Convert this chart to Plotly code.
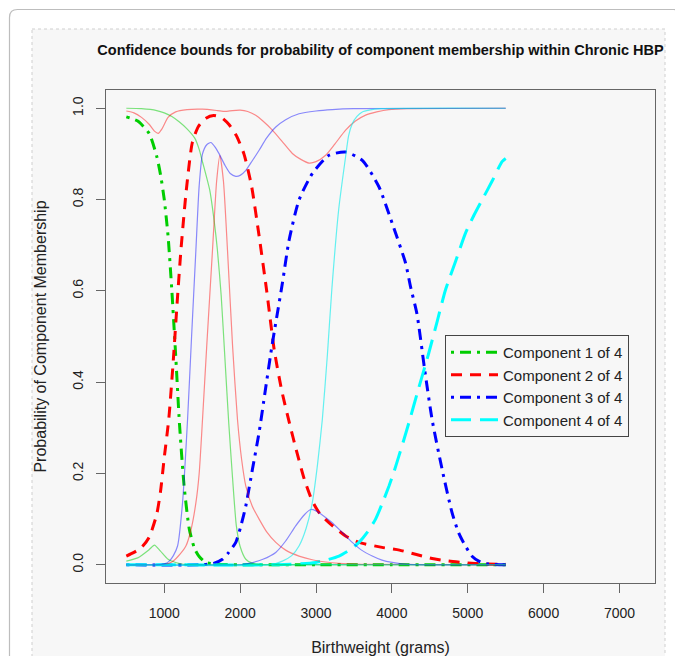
import plotly.graph_objects as go

# ---------------- data ----------------
comp_names = ["Component 1 of 4", "Component 2 of 4", "Component 3 of 4", "Component 4 of 4"]

# Component 1: point estimate and bounds
c1_est_x = [500, 650, 800, 900, 950, 1000, 1050, 1100, 1150, 1200, 1260, 1330, 1400, 1460, 1550, 1700, 2000, 3000, 4000, 5500]
c1_est_y = [0.981, 0.972, 0.945, 0.895, 0.855, 0.80, 0.72, 0.60, 0.46, 0.31, 0.175, 0.078, 0.035, 0.018, 0.005, 0.001, 0, 0, 0, 0]
c1_up_x = [500, 700, 900, 1000, 1100, 1200, 1300, 1400, 1460, 1500, 1600, 1660, 1700, 1750, 1800, 1850, 1900, 1950, 2000, 2075, 2150, 2250, 2500, 5500]
c1_up_y = [1.0, 0.999, 0.995, 0.99, 0.982, 0.97, 0.955, 0.935, 0.91, 0.885, 0.82, 0.75, 0.69, 0.59, 0.45, 0.31, 0.19, 0.085, 0.04, 0.012, 0.004, 0.001, 0, 0]
c1_lo_x = [500, 650, 800, 870, 950, 1050, 1150, 1250, 1400, 5500]
c1_lo_y = [0.008, 0.015, 0.033, 0.043, 0.03, 0.012, 0.005, 0.001, 0, 0]

# Component 2
c2_est_x = [500, 600, 700, 800, 900, 950, 1000, 1060, 1120, 1170, 1220, 1290, 1370, 1450, 1550, 1650, 1750, 1850, 1950, 2050, 2150, 2250, 2350, 2450, 2550, 2650, 2750, 2850, 2950, 3050, 3200, 3400, 3566, 3870, 4100, 4311, 4550, 4750, 5000, 5200, 5500]
c2_est_y = [0.019, 0.027, 0.038, 0.06, 0.11, 0.16, 0.235, 0.32, 0.45, 0.575, 0.69, 0.82, 0.925, 0.96, 0.978, 0.984, 0.98, 0.965, 0.94, 0.90, 0.83, 0.72, 0.60, 0.47, 0.38, 0.31, 0.245, 0.185, 0.14, 0.112, 0.088, 0.062, 0.049, 0.038, 0.032, 0.023, 0.013, 0.008, 0.004, 0.002, 0.001]
c2_up_x = [500, 600, 700, 800, 870, 920, 970, 1050, 1150, 1300, 1500, 1700, 1800, 1900, 2000, 2100, 2200, 2300, 2425, 2550, 2688, 2800, 2908, 3000, 3127, 3250, 3390, 3520, 3654, 3800, 3961, 4200, 5500]
c2_up_y = [0.994, 0.99, 0.98, 0.965, 0.95, 0.945, 0.955, 0.98, 0.992, 0.997, 0.998, 0.995, 0.993, 0.995, 0.996, 0.993, 0.985, 0.972, 0.952, 0.928, 0.901, 0.888, 0.880, 0.883, 0.897, 0.922, 0.952, 0.972, 0.985, 0.992, 0.997, 0.999, 1.0]
c2_lo_x = [500, 1000, 1100, 1180, 1285, 1350, 1417, 1460, 1504, 1560, 1636, 1690, 1733, 1780, 1833, 1900, 1965, 2020, 2075, 2160, 2250, 2350, 2470, 2600, 2776, 2950, 3127, 3300, 3600, 5500]
c2_lo_y = [0, 0.001, 0.006, 0.018, 0.041, 0.075, 0.136, 0.2, 0.318, 0.48, 0.69, 0.84, 0.897, 0.84, 0.69, 0.48, 0.318, 0.23, 0.172, 0.128, 0.10, 0.072, 0.049, 0.032, 0.019, 0.011, 0.006, 0.003, 0.001, 0]

# Component 3
c3_est_x = [500, 1500, 1650, 1767, 1850, 1943, 2010, 2075, 2162, 2250, 2330, 2420, 2557, 2645, 2776, 2951, 3171, 3390, 3610, 3829, 4004, 4180, 4246, 4330, 4430, 4530, 4662, 4793, 4880, 4969, 5060, 5145, 5250, 5500]
c3_est_y = [0, 0, 0.003, 0.012, 0.027, 0.049, 0.085, 0.129, 0.209, 0.29, 0.38, 0.48, 0.617, 0.711, 0.799, 0.857, 0.897, 0.904, 0.886, 0.828, 0.748, 0.661, 0.609, 0.55, 0.43, 0.318, 0.209, 0.114, 0.07, 0.041, 0.018, 0.008, 0.002, 0]
c3_up_x = [500, 1000, 1066, 1120, 1175, 1241, 1307, 1360, 1417, 1460, 1504, 1560, 1614, 1670, 1724, 1800, 1870, 1943, 2000, 2075, 2160, 2250, 2350, 2470, 2600, 2776, 3000, 3214, 3500, 5500]
c3_up_y = [0, 0.002, 0.008, 0.02, 0.041, 0.136, 0.318, 0.5, 0.69, 0.83, 0.9, 0.92, 0.925, 0.915, 0.9, 0.875, 0.857, 0.851, 0.853, 0.864, 0.885, 0.908, 0.935, 0.959, 0.975, 0.988, 0.994, 0.997, 0.999, 1.0]
c3_lo_x = [500, 2000, 2118, 2300, 2469, 2600, 2732, 2850, 2930, 3000, 3100, 3214, 3350, 3478, 3600, 3741, 3870, 4004, 4200, 5500]
c3_lo_y = [0, 0, 0.003, 0.012, 0.027, 0.052, 0.085, 0.11, 0.121, 0.118, 0.107, 0.092, 0.07, 0.049, 0.032, 0.019, 0.01, 0.005, 0.001, 0]

# Component 4
c4_est_x = [500, 2500, 2800, 2996, 3150, 3303, 3450, 3566, 3680, 3785, 3870, 3961, 4030, 4092, 4160, 4224, 4350, 4480, 4600, 4706, 4840, 4969, 5080, 5188, 5320, 5452, 5500]
c4_est_y = [0, 0, 0.002, 0.005, 0.011, 0.019, 0.033, 0.049, 0.072, 0.1, 0.133, 0.172, 0.205, 0.238, 0.275, 0.311, 0.385, 0.46, 0.535, 0.602, 0.665, 0.726, 0.765, 0.799, 0.84, 0.883, 0.89]
c4_up_x = [500, 2400, 2557, 2680, 2776, 2870, 2951, 3020, 3083, 3150, 3208, 3300, 3390, 3430, 3478, 3540, 3610, 3700, 3850, 5500]
c4_up_y = [0, 0, 0.008, 0.02, 0.041, 0.08, 0.136, 0.22, 0.318, 0.46, 0.602, 0.78, 0.894, 0.94, 0.966, 0.982, 0.992, 0.996, 0.999, 1.0]
c4_lo_x = [500, 5500]
c4_lo_y = [0, 0]

x_ticks = [1000, 2000, 3000, 4000, 5000, 6000, 7000]
y_ticks = [0.0, 0.2, 0.4, 0.6, 0.8, 1.0]
y_tick_text = ["0.0", "0.2", "0.4", "0.6", "0.8", "1.0"]

# ---------------- styling ----------------
FONT = "Liberation Sans, Arial, sans-serif"
est_colors = ["#00cd00", "#ff0000", "#0000ff", "#00ffff"]
bound_colors = ["rgba(0,205,0,0.5)", "rgba(255,0,0,0.45)", "rgba(0,0,255,0.45)", "rgba(0,235,235,0.6)"]
est_dash = ["3px,6px,11px,6px", "11px,8px", "3px,6px,11px,6px", "20px,9px"]

# the page places the figure 8px from the window's top-left corner
OFF = 8
W, H = 683 - OFF, 656 - OFF
L, R, T, B = 106 - OFF, 655 - OFF, 90 - OFF, 583 - OFF  # plot box in figure pixels


def px(x):
    return (x - OFF - L) / (R - L)


def py(y):
    return (B - (y - OFF)) / (B - T)


fig = go.Figure()

ests = [(c1_est_x, c1_est_y), (c2_est_x, c2_est_y), (c3_est_x, c3_est_y), (c4_est_x, c4_est_y)]
bounds = [[(c1_up_x, c1_up_y), (c1_lo_x, c1_lo_y)],
          [(c2_up_x, c2_up_y), (c2_lo_x, c2_lo_y)],
          [(c3_up_x, c3_up_y), (c3_lo_x, c3_lo_y)],
          [(c4_up_x, c4_up_y), (c4_lo_x, c4_lo_y)]]

for i, (xs, ys) in enumerate(ests):
    fig.add_trace(go.Scatter(x=xs, y=ys, mode="lines", name=comp_names[i],
                             line=dict(color=est_colors[i], width=3, dash=est_dash[i],
                                       shape="spline", smoothing=0.6)))

for i, pair in enumerate(bounds):
    for xs, ys in pair:
        fig.add_trace(go.Scatter(x=xs, y=ys, mode="lines", showlegend=False, hoverinfo="skip",
                                 line=dict(color=bound_colors[i], width=1.2,
                                           shape="spline", smoothing=0.6)))

# card & panel backgrounds (window pixel coordinates)
cx0, cy0, cx1, cy1, r = 9.5, 9.5, 681.5, 760, 8
card_path = (f"M {px(cx0 + r)},{py(cy0)} L {px(cx1 - r)},{py(cy0)} "
             f"Q {px(cx1)},{py(cy0)} {px(cx1)},{py(cy0 + r)} L {px(cx1)},{py(cy1)} "
             f"L {px(cx0)},{py(cy1)} L {px(cx0)},{py(cy0 + r)} "
             f"Q {px(cx0)},{py(cy0)} {px(cx0 + r)},{py(cy0)} Z")
shapes = [
    dict(type="path", xref="paper", yref="paper", path=card_path, fillcolor="white",
         line=dict(color="#bdbdbd", width=1.2), layer="below"),
    dict(type="rect", xref="paper", yref="paper", x0=px(32), x1=px(665), y0=py(29), y1=py(760),
         fillcolor="#f7f7f7", line=dict(color="#cfcfcf", width=1, dash="dot"), layer="below"),
]

fig.update_layout(
    width=W, height=H,
    margin=dict(l=L, r=W - R, t=T, b=H - B, autoexpand=False),
    paper_bgcolor="white",
    plot_bgcolor="rgba(0,0,0,0)",
    shapes=shapes,
    font=dict(family=FONT, size=14, color="#222222"),
    title=dict(text="<b>Confidence bounds for probability of component membership within Chronic HBP</b>",
               x=0.5, xref="paper", xanchor="center", y=1 - (50 - OFF) / H, yref="container", yanchor="middle",
               font=dict(family=FONT, size=14.5, color="#111111")),
    showlegend=True,
    legend=dict(x=px(445), y=py(335), xanchor="left", yanchor="top",
                bgcolor="#f7f7f7", bordercolor="#444444", borderwidth=1,
                font=dict(family=FONT, size=15, color="#222222"),
                itemwidth=47, tracegroupgap=0),
    xaxis=dict(range=[232, 7468], tickmode="array", tickvals=x_ticks,
               showgrid=False, zeroline=False, showline=True, mirror=True,
               linecolor="#666666", linewidth=1, ticks="outside", ticklen=9, tickcolor="#666666",
               ticklabelstandoff=8,
               title=dict(text="Birthweight (grams)", standoff=24, font=dict(size=16))),
    yaxis=dict(range=[-0.04, 1.04], tickmode="array", tickvals=y_ticks, ticktext=y_tick_text,
               tickangle=-90, showgrid=False, zeroline=False, showline=True, mirror=True,
               linecolor="#666666", linewidth=1, ticks="outside", ticklen=9, tickcolor="#666666",
               ticklabelstandoff=7,
               title=dict(text="Probability of Component Membership", standoff=19, font=dict(size=16))),
)

fig.write_html("out.html")
